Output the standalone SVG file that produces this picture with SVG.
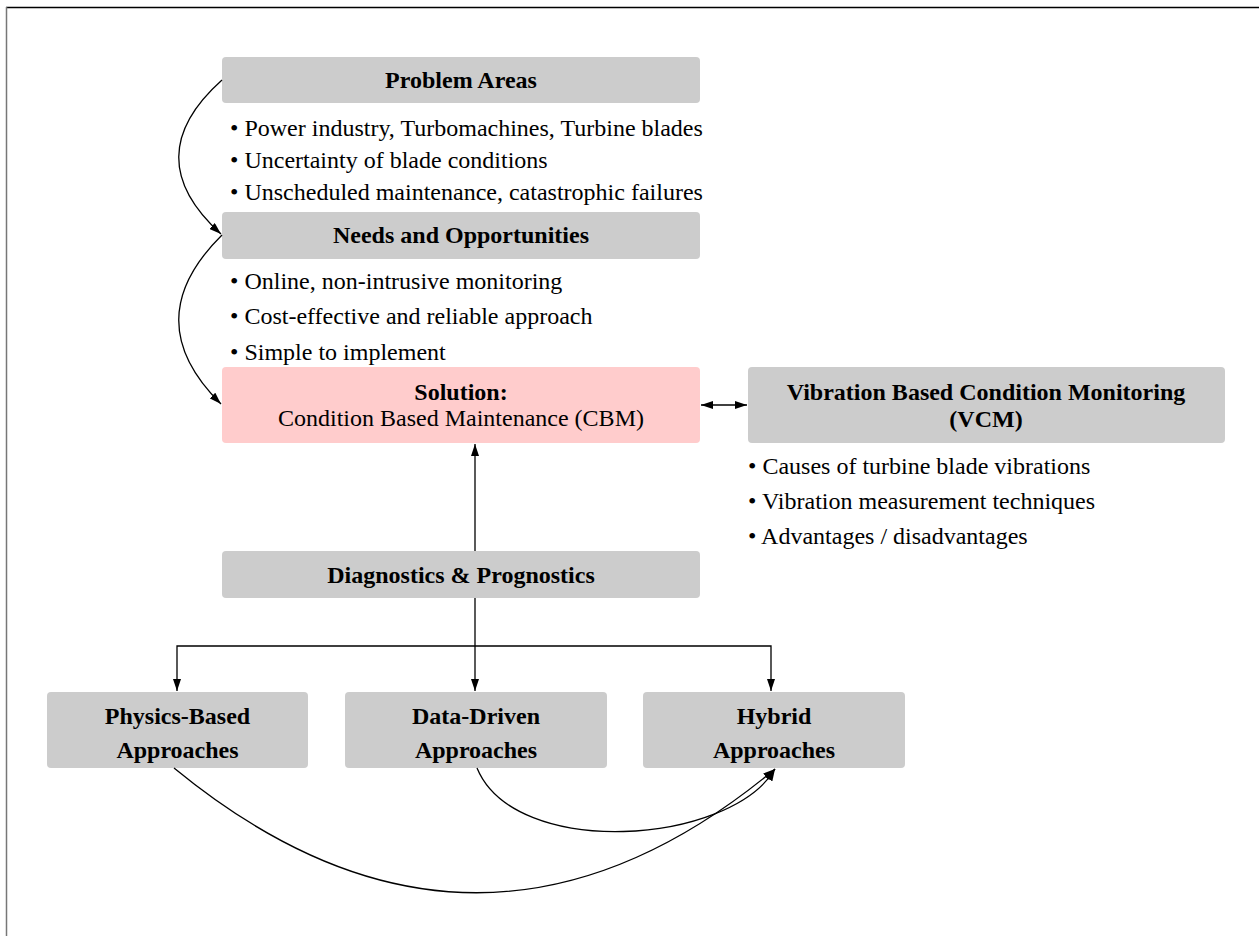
<svg xmlns="http://www.w3.org/2000/svg" width="1259" height="936" viewBox="0 0 1259 936">
<style>
.box{fill:#cccccc}
.sol{fill:#ffcccc}
.t{font-family:"Liberation Serif","Times New Roman",serif;font-size:24px;fill:#000}
.b{font-weight:bold;text-anchor:middle}
.c{text-anchor:middle}
.ln{fill:none;stroke:#000;stroke-width:1.3}
</style>
<defs>
<marker id="ah" viewBox="0 0 12 8" refX="12" refY="4" markerWidth="12" markerHeight="8" markerUnits="userSpaceOnUse" orient="auto-start-reverse">
<path d="M0,0 L12,4 L0,8 z" fill="#000"/>
</marker>
</defs>
<rect x="0" y="0" width="1259" height="936" fill="#fff"/>
<line x1="6" y1="7.5" x2="1259" y2="7.5" stroke="#000" stroke-width="1.5"/>
<line x1="6.5" y1="7" x2="6.5" y2="936" stroke="#777" stroke-width="1.5"/>

<g id="problem">
<rect class="box" x="222" y="57" width="478" height="46" rx="4"/>
<text class="t b" x="461" y="88">Problem Areas</text>
<text class="t" x="230" y="136">• Power industry, Turbomachines, Turbine blades</text>
<text class="t" x="230" y="168">• Uncertainty of blade conditions</text>
<text class="t" x="230" y="200">• Unscheduled maintenance, catastrophic failures</text>
</g>
<g id="needs">
<rect class="box" x="222" y="212" width="478" height="47" rx="4"/>
<text class="t b" x="461" y="243">Needs and Opportunities</text>
<text class="t" x="230" y="289">• Online, non-intrusive monitoring</text>
<text class="t" x="230" y="324">• Cost-effective and reliable approach</text>
<text class="t" x="230" y="360">• Simple to implement</text>
</g>
<g id="solution">
<rect class="sol" x="222" y="367" width="478" height="76" rx="4"/>
<text class="t b" x="461" y="400">Solution:</text>
<text class="t c" x="461" y="426">Condition Based Maintenance (CBM)</text>
</g>
<g id="vcm">
<rect class="box" x="748" y="367" width="477" height="76" rx="4"/>
<text class="t b" x="986" y="400">Vibration Based Condition Monitoring</text>
<text class="t b" x="986" y="427">(VCM)</text>
<text class="t" x="748" y="474">• Causes of turbine blade vibrations</text>
<text class="t" x="748" y="509">• Vibration measurement techniques</text>
<text class="t" x="748" y="544">• Advantages / disadvantages</text>
</g>
<g id="diag">
<rect class="box" x="222" y="551" width="478" height="47" rx="4"/>
<text class="t b" x="461" y="583">Diagnostics &amp; Prognostics</text>
</g>
<g id="physics">
<rect class="box" x="47" y="692" width="261" height="76" rx="4"/>
<text class="t b" x="177.5" y="724">Physics-Based</text>
<text class="t b" x="177.5" y="758">Approaches</text>
</g>
<g id="data">
<rect class="box" x="345" y="692" width="262" height="76" rx="4"/>
<text class="t b" x="476" y="724">Data-Driven</text>
<text class="t b" x="476" y="758">Approaches</text>
</g>
<g id="hybrid">
<rect class="box" x="643" y="692" width="262" height="76" rx="4"/>
<text class="t b" x="774" y="724">Hybrid</text>
<text class="t b" x="774" y="758">Approaches</text>
</g>

<g id="connectors">
<path class="ln" d="M222,80 Q136,157 221,234" marker-end="url(#ah)"/>
<path class="ln" d="M222,235 Q136,320 221,404" marker-end="url(#ah)"/>
<line class="ln" x1="701" y1="405" x2="747" y2="405" marker-start="url(#ah)" marker-end="url(#ah)"/>
<line class="ln" x1="475" y1="551" x2="475" y2="444" marker-end="url(#ah)"/>
<line class="ln" x1="475" y1="598" x2="475" y2="691" marker-end="url(#ah)"/>
<polyline class="ln" points="177,691 177,646 771,646 771,691" marker-start="url(#ah)" marker-end="url(#ah)"/>
<path class="ln" d="M174,768 Q477,1017 775,769" marker-end="url(#ah)"/>
<path class="ln" d="M477,768 C515,860 730,845 775,769" marker-end="url(#ah)"/>
</g>
</svg>
